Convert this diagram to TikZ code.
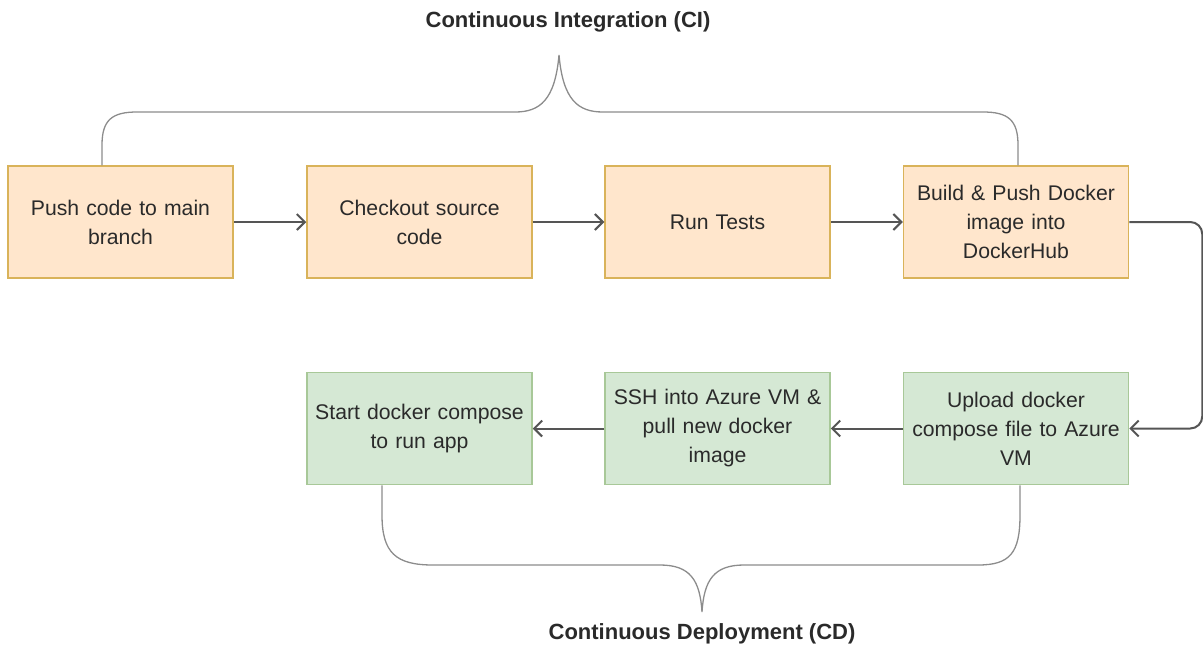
\documentclass[tikz,border=0pt]{standalone}
\usepackage{fontspec}
\setmainfont{Liberation Sans}
\usetikzlibrary{arrows.meta}
\definecolor{ofill}{HTML}{FFE6CC}
\definecolor{ostroke}{HTML}{D9B35A}
\definecolor{gfill}{HTML}{D5E8D4}
\definecolor{gstroke}{HTML}{A8C898}
\definecolor{edgec}{HTML}{555555}
\definecolor{bracec}{HTML}{8C8C8C}
\definecolor{txt}{HTML}{2A2A2A}
\tikzset{
  boxbase/.style={rectangle, minimum width=225pt, minimum height=112pt, inner sep=0pt,
    text width=220pt, align=center, line width=1.5pt, text=txt,
    font=\fontsize{21.2}{29}\selectfont},
  cibox/.style={boxbase, fill=ofill, draw=ostroke},
  cdbox/.style={boxbase, fill=gfill, draw=gstroke},
  flow/.style={draw=edgec, line width=2pt, -{Straight Barb[length=8pt,width=16pt,line width=2pt]}},
  bracestyle/.style={draw=bracec, line width=1.3pt},
  grouplabel/.style={font=\bfseries\fontsize{22}{26}\selectfont, text=txt, inner sep=0pt}
}
\begin{document}
\begin{tikzpicture}[x=1pt,y=-1pt]
\useasboundingbox (0,0) rectangle (1203,646);
% top row (CI)
\node[cibox] (b1) at (120.5,222) {Push code to main\\branch};
\node[cibox] (b2) at (419.5,222) {Checkout source\\code};
\node[cibox] (b3) at (717.5,222) {Run Tests};
\node[cibox] (b4) at (1016,222) {Build \& Push Docker\\image into\\DockerHub};
% bottom row (CD)
\node[cdbox] (c1) at (419.5,428.5) {Start docker compose\\to run app};
\node[cdbox] (c2) at (717.5,428.5) {SSH into Azure VM \&\\pull new docker\\image};
\node[cdbox] (c3) at (1016,428.5) {Upload docker\\compose file to Azure\\VM};
% connectors
\draw[flow] (b1) -- (b2);
\draw[flow] (b2) -- (b3);
\draw[flow] (b3) -- (b4);
\draw[flow, rounded corners=12pt] (b4.east) -- ++(73,0) |- (c3.east);
\draw[flow] (c3) -- (c2);
\draw[flow] (c2) -- (c1);
% braces
\coordinate (citip) at (559,55);
\coordinate (cdtip) at (702,612);
\draw[bracestyle] (b1.north -| 102,0) -- (102,145)
  .. controls (102,120) and (112,112) .. (137,112) -- (515,112)
  .. controls (540,112) and (555,100) .. (citip)
  .. controls (563,100) and (578,112) .. (603,112) -- (983,112)
  .. controls (1008,112) and (1018,120) .. (1018,145) -- (b4.north -| 1018,0);
\draw[bracestyle] (c1.south -| 382,0) -- (382,515)
  .. controls (382,553) and (396,565) .. (433,565) -- (660,565)
  .. controls (690,565) and (700,580) .. (cdtip)
  .. controls (704,580) and (714,565) .. (744,565) -- (978,565)
  .. controls (1010,565) and (1020,553) .. (1020,515) -- (c3.south -| 1020,0);
% group labels
\node[grouplabel] (cilabel) at (568,22) {Continuous Integration (CI)};
\node[grouplabel] (cdlabel) at (702,634) {Continuous Deployment (CD)};
\end{tikzpicture}
\end{document}
